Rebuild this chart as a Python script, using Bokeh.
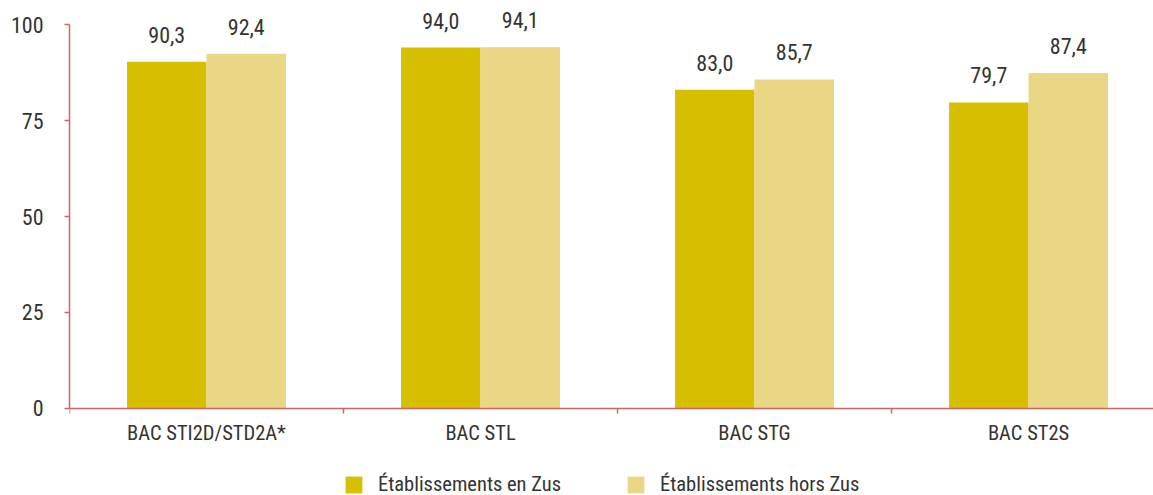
import math
from bokeh.plotting import figure
from bokeh.models import Range1d, FixedTicker, ColumnDataSource, Legend, LegendItem, Span
from bokeh.core.properties import value
from bokeh.embed import file_html
from bokeh.resources import INLINE

categories = ["BAC STI2D/STD2A*", "BAC STL", "BAC STG", "BAC ST2S"]
en_zus = [90.3, 94.0, 83.0, 79.7]
hors_zus = [92.4, 94.1, 85.7, 87.4]
series_names = ["Établissements en Zus", "Établissements hors Zus"]
y_ticks = [0, 25, 50, 75, 100]

FONT = "'Liberation Sans Narrow', 'Arial Narrow', 'Roboto Condensed', sans-serif"
DARK = "#D6BE00"
LIGHT = "#E9D785"
AXIS = "#CF6464"
TXT = "#333333"

centers = [i + 0.5 for i in range(len(categories))]
bounds = list(range(len(categories) + 1))
bw = 0.29

def fmt(v):
    return f"{v:.1f}".replace(".", ",")

src1 = ColumnDataSource(dict(x=[c - bw / 2 for c in centers], y=en_zus, lab=[fmt(v) for v in en_zus]))
src2 = ColumnDataSource(dict(x=[c + bw / 2 for c in centers], y=hors_zus, lab=[fmt(v) for v in hors_zus]))
cat_src = ColumnDataSource(dict(x=centers, y=[0] * len(centers), lab=categories))
tick_src = ColumnDataSource(dict(x=bounds, y=[0] * len(bounds)))

p = figure(width=1153, height=495, output_backend="svg", toolbar_location=None,
           x_range=Range1d(0, 3.956), y_range=Range1d(-22.66, 104.17),
           min_border_left=69, min_border_top=8, min_border_right=0, min_border_bottom=0)
p.outline_line_color = None
p.grid.grid_line_color = None
p.background_fill_color = None
p.border_fill_color = "white"
p.xaxis.visible = False

r1 = p.vbar(x="x", top="y", width=bw, source=src1, fill_color=DARK, line_color=None)
r2 = p.vbar(x="x", top="y", width=bw, source=src2, fill_color=LIGHT, line_color=None)

for s in (src1, src2):
    p.text(x="x", y="y", text="lab", source=s, text_align="center", text_baseline="bottom",
           y_offset=-19, text_font=value(FONT), text_font_size="22px", text_color=TXT)

# x axis drawn at y = 0
p.add_layout(Span(location=0, dimension="width", line_color=AXIS, line_width=1.5))
p.ray(x="x", y="y", source=tick_src, length=5, length_units="screen", angle=-90,
      angle_units="deg", line_color=AXIS, line_width=1.5)
p.text(x="x", y="y", text="lab", source=cat_src, text_align="center", text_baseline="top",
       y_offset=13, text_font=value(FONT), text_font_size="20.5px", text_color=TXT)

# y axis
ya = p.yaxis[0]
ya.ticker = FixedTicker(ticks=y_ticks)
ya.bounds = (0, 100)
ya.axis_line_color = AXIS
ya.axis_line_width = 1.5
ya.major_tick_line_color = AXIS
ya.major_tick_line_width = 1.5
ya.major_tick_out = 5
ya.major_tick_in = 0
ya.minor_tick_line_color = None
ya.major_label_standoff = 21
ya.major_label_text_font = FONT
ya.major_label_text_font_size = "22px"
ya.major_label_text_color = TXT

legend = Legend(items=[LegendItem(label=series_names[0], renderers=[r1]),
                       LegendItem(label=series_names[1], renderers=[r2])],
                orientation="horizontal", location=(274, -1),
                label_text_font=FONT, label_text_font_size="20.5px", label_text_color=TXT,
                glyph_width=21, glyph_height=21, label_standoff=14, spacing=64,
                border_line_color=None, background_fill_alpha=0,
                margin=0, padding=0)
p.add_layout(legend)

open("out.html", "w").write(file_html(p, INLINE))
